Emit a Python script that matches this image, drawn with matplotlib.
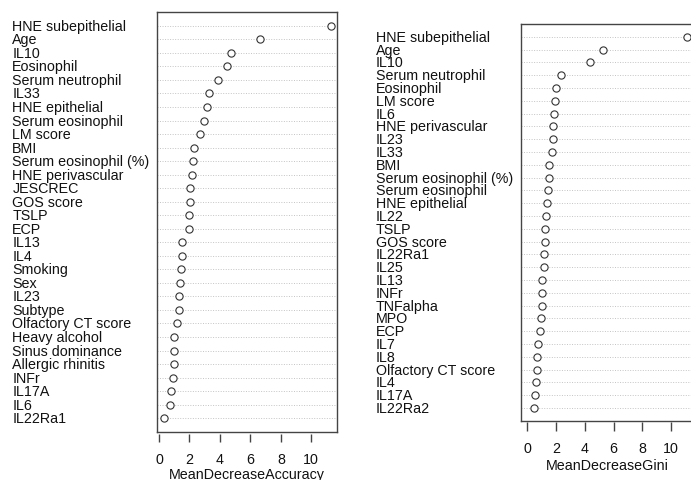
import matplotlib
matplotlib.use("Agg")
import matplotlib.pyplot as plt
import matplotlib.transforms as mtransforms
import numpy as np

# ---- data (top to bottom, as displayed) ----
acc_labels = ["HNE subepithelial", "Age", "IL10", "Eosinophil", "Serum neutrophil",
              "IL33", "HNE epithelial", "Serum eosinophil", "LM score", "BMI",
              "Serum eosinophil (%)", "HNE perivascular", "JESCREC", "GOS score",
              "TSLP", "ECP", "IL13", "IL4", "Smoking", "Sex", "IL23", "Subtype",
              "Olfactory CT score", "Heavy alcohol", "Sinus dominance",
              "Allergic rhinitis", "INFr", "IL17A", "IL6", "IL22Ra1"]
acc_values = [11.27, 6.66, 4.76, 4.49, 3.86, 3.26, 3.13, 2.96, 2.72, 2.32,
              2.26, 2.17, 2.04, 2.01, 1.99, 1.95, 1.53, 1.49, 1.42, 1.40,
              1.32, 1.30, 1.18, 1.01, 1.00, 0.99, 0.90, 0.76, 0.70, 0.33]

gini_labels = ["HNE subepithelial", "Age", "IL10", "Serum neutrophil", "Eosinophil",
               "LM score", "IL6", "HNE perivascular", "IL23", "IL33", "BMI",
               "Serum eosinophil (%)", "Serum eosinophil", "HNE epithelial", "IL22",
               "TSLP", "GOS score", "IL22Ra1", "IL25", "IL13", "INFr", "TNFalpha",
               "MPO", "ECP", "IL7", "IL8", "Olfactory CT score", "IL4", "IL17A",
               "IL22Ra2"]
gini_values = [11.15, 5.27, 4.34, 2.34, 2.02, 1.95, 1.88, 1.81, 1.79, 1.72, 1.53,
               1.48, 1.41, 1.40, 1.30, 1.25, 1.21, 1.16, 1.15, 1.02, 1.01, 1.00,
               0.97, 0.90, 0.76, 0.70, 0.67, 0.58, 0.53, 0.46]

xticks = [0, 2, 4, 6, 8, 10]
acc_xlabel = "MeanDecreaseAccuracy"
gini_xlabel = "MeanDecreaseGini"

# ---- figure ----
W, H = 691, 481
DPI = 100
plt.rcParams['font.family'] = ['Liberation Sans', 'DejaVu Sans']
fig = plt.figure(figsize=(W / DPI, H / DPI), dpi=DPI)

FS = 10.3
BOX = '#444444'
TXT = '#111111'


def px_axes(x0, x1, ytop, ybot):
    return fig.add_axes([x0 / W, 1 - ybot / H, (x1 - x0) / W, (ybot - ytop) / H])


def dotpanel(ax, labels, values, xlim, label_x_px, ybot_px, tick_gap_px, tick_len_px,
             ticklab_y_px, xlabel, xlabel_y_px):
    n = len(labels)
    y = np.arange(n, 0, -1)
    ax.set_xlim(*xlim)
    ax.set_ylim(0, n + 1)
    for yy in y:
        ax.axhline(yy, color='#c4c4c4', lw=0.7, ls=(0, (1, 1.6)), zorder=1)
    ax.plot(values, y, 'o', mfc='white', mec='#333333', ms=5.2, mew=0.8,
            zorder=3, clip_on=False, ls='none')
    for s in ax.spines.values():
        s.set_color(BOX)
        s.set_linewidth(1.0)
    ax.set_xticks([])
    ax.set_yticks([])
    # labels on left, left-aligned
    tr = mtransforms.blended_transform_factory(fig.transFigure, ax.transData)
    for lab, yy in zip(labels, y):
        ax.text(label_x_px / W, yy, lab, transform=tr, ha='left', va='center',
                fontsize=FS, color=TXT, clip_on=False)
    # offset tick marks and labels (R style)
    trt = mtransforms.blended_transform_factory(ax.transData, fig.transFigure)
    y0 = 1 - (ybot_px + tick_gap_px) / H
    y1 = 1 - (ybot_px + tick_gap_px + tick_len_px) / H
    for t in xticks:
        ax.plot([t, t], [y0, y1], transform=trt, color=BOX, lw=1.0,
                clip_on=False, solid_capstyle='butt')
        ax.text(t, 1 - ticklab_y_px / H, str(t), transform=trt, ha='center',
                va='center', fontsize=FS, color=TXT)
    trx = mtransforms.blended_transform_factory(ax.transAxes, fig.transFigure)
    ax.text(0.5, 1 - xlabel_y_px / H, xlabel, transform=trx, ha='center',
            va='center', fontsize=FS, color=TXT)


# left panel
amin, amax = min(acc_values), max(acc_values)
r = amax - amin
ax1 = px_axes(157.3, 337.3, 13.3, 432.7)
dotpanel(ax1, acc_labels, acc_values, (amin - 0.04 * r, amax + 0.04 * r),
         12.3, 432.7, 2.3, 7.7, 460, acc_xlabel, 475.5)

# right panel (xlim from 0 to max, extended 4%)
gmax = max(gini_values)
gx0, gx1 = -0.04 * gmax, 1.04 * gmax
scale = 14.35
ax2 = px_axes(521, 521 + (gx1 - gx0) * scale, 25, 421.7)
dotpanel(ax2, gini_labels, gini_values, (gx0, gx1),
         376, 421.7, 1.6, 8.4, 449.5, gini_xlabel, 466)

fig.savefig("out.png", dpi=DPI)
